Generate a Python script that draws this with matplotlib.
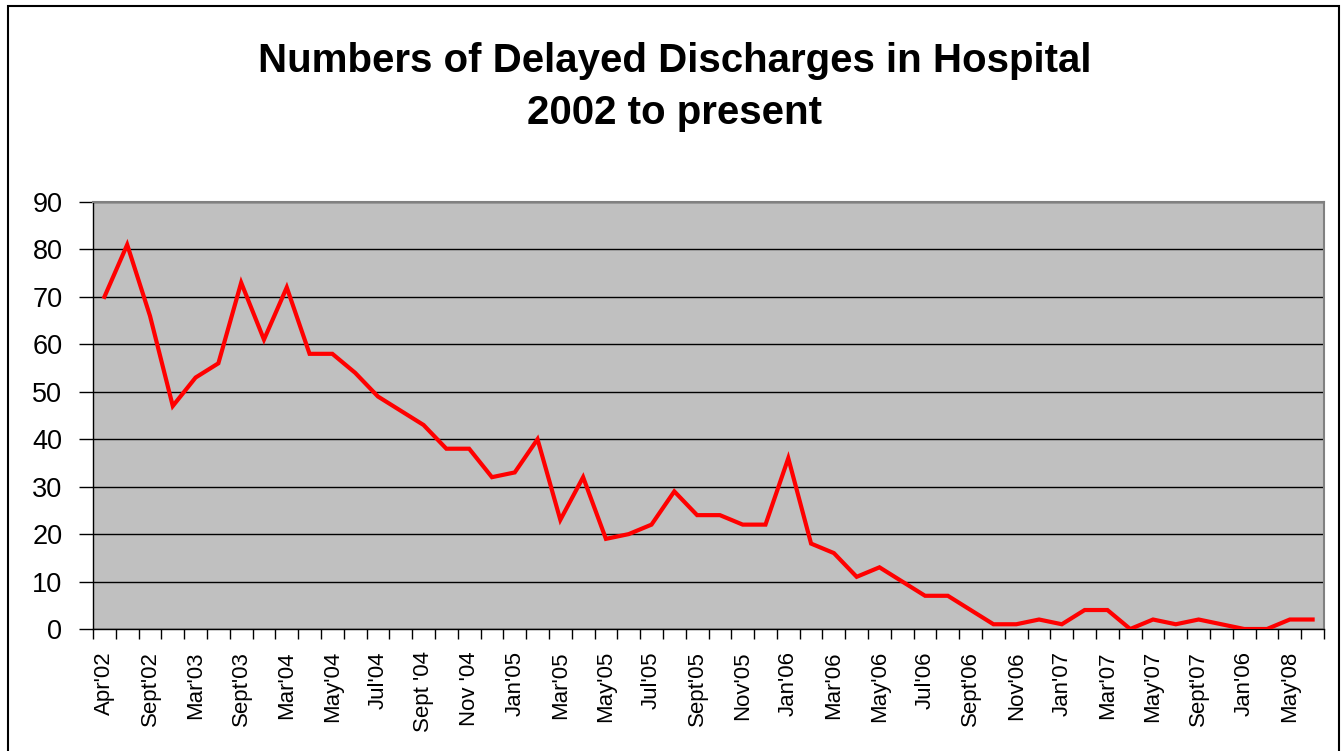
import matplotlib
matplotlib.use("Agg")
import matplotlib.pyplot as plt
from matplotlib.patches import Rectangle
import numpy as np

plt.rcParams['font.family'] = ['Liberation Sans', 'DejaVu Sans']

title = "Numbers of Delayed Discharges in Hospital\n2002 to present"

values = [70, 81, 66, 47, 53, 56, 73, 61, 72, 58,
          58, 54, 49, 46, 43, 38, 38, 32, 33, 40,
          23, 32, 19, 20, 22, 29, 24, 24, 22, 22,
          36, 18, 16, 11, 13, 10, 7, 7, 4, 1,
          1, 2, 1, 4, 4, 0, 2, 1, 2, 1,
          0, 0, 2, 2]

tick_labels = ["Apr'02", "Sept'02", "Mar'03", "Sept'03", "Mar'04", "May'04",
               "Jul'04", "Sept '04", "Nov '04", "Jan'05", "Mar'05", "May'05",
               "Jul'05", "Sept'05", "Nov'05", "Jan'06", "Mar'06", "May'06",
               "Jul'06", "Sept'06", "Nov'06", "Jan'07", "Mar'07", "May'07",
               "Sept'07", "Jan'06", "May'08"]

y_ticks = [0, 10, 20, 30, 40, 50, 60, 70, 80, 90]

W, H = 1343, 751
fig = plt.figure(figsize=(W / 100, H / 100), dpi=100)
fig.patch.set_facecolor('white')

# outer chart frame
fig.patches.append(Rectangle((8 / W, -0.02), (1339 - 8) / W, 1.02 - 6 / H,
                             transform=fig.transFigure, fill=False,
                             edgecolor='black', linewidth=1.5))

left, right = 93 / W, 1324 / W
bottom, top = 1 - 629 / H, 1 - 202 / H
ax = fig.add_axes([left, bottom, right - left, top - bottom])
ax.set_facecolor('#C0C0C0')

n = len(values)
x = np.arange(n)
ax.plot(x, values, color='#FF0000', linewidth=3, solid_joinstyle='miter', zorder=3)

ax.set_xlim(-0.5, n - 0.5)
ax.set_ylim(0, 90)
ax.set_yticks(y_ticks)
ax.set_yticklabels([str(v) for v in y_ticks], fontsize=19.5)
ax.yaxis.grid(True, color='black', linewidth=1)
ax.set_axisbelow(True)

# category boundary ticks (major) and label ticks (minor)
ax.set_xticks(np.arange(-0.5, n, 1))
ax.set_xticklabels([])
ax.set_xticks(np.arange(0, 2 * len(tick_labels), 2), minor=True)
ax.set_xticklabels(tick_labels, minor=True, rotation=90, fontsize=16,
                   ha='center', va='top')
ax.tick_params(axis='x', which='major', length=7, width=1, color='black', direction='out')
ax.tick_params(axis='x', which='minor', length=0, pad=16)
ax.tick_params(axis='y', which='major', length=10, width=1, color='black',
               direction='out', pad=12)

for s in ['top', 'right']:
    ax.spines[s].set_color('#808080')
    ax.spines[s].set_linewidth(1.5)
for s in ['left', 'bottom']:
    ax.spines[s].set_color('black')
    ax.spines[s].set_linewidth(1)

fig.text(675 / W, 1 - 87 / H, title, ha='center', va='center',
         fontsize=29, fontweight='bold', linespacing=1.5)

fig.savefig('out.png', dpi=100)
